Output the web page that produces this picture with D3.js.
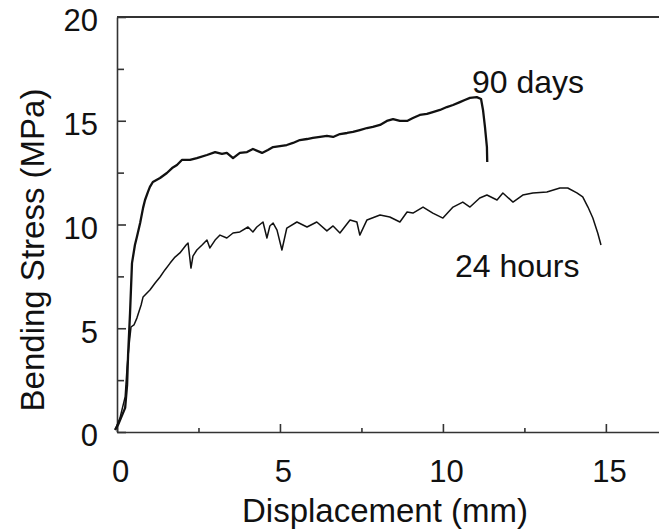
<!DOCTYPE html>
<html>
<head>
<meta charset="utf-8">
<script src="https://cdn.jsdelivr.net/npm/d3@7"></script>
<style>
  html, body { margin: 0; padding: 0; background: #fff; }
  text { font-family: "Liberation Sans", Arial, sans-serif; fill: #111; }
</style>
</head>
<body>
<div id="d3Container"></div>
<script>
// 90 days curve (displacement mm, stress MPa)
const disp90 = [-0.06,0.03,0.12,0.25,0.31,0.34,0.40,0.46,0.55,0.61,
  0.71,0.80,0.86,0.95,1.01,1.10,1.32,1.53,1.69,1.84,
  1.99,2.24,2.45,2.76,3.01,3.22,3.37,3.56,3.77,3.99,
  4.17,4.45,4.63,4.79,5.00,5.21,5.40,5.61,5.83,6.01,
  6.23,6.44,6.63,6.84,7.06,7.24,7.45,7.67,7.85,8.07,
  8.28,8.47,8.68,8.90,9.08,9.29,9.51,9.69,9.91,10.12,
  10.31,10.52,10.67,10.83,11.04,11.17,11.23,11.29,11.35,11.36];
const stress90 = [0.10,0.34,0.67,1.16,2.27,3.71,5.73,8.14,9.01,9.40,
  10.07,10.80,11.18,11.57,11.81,12.05,12.24,12.48,12.72,12.87,
  13.11,13.11,13.20,13.35,13.49,13.40,13.45,13.20,13.45,13.49,
  13.64,13.45,13.59,13.73,13.78,13.83,13.93,14.07,14.12,14.17,
  14.22,14.27,14.22,14.36,14.41,14.46,14.55,14.65,14.70,14.80,
  14.99,15.08,14.99,14.99,15.13,15.28,15.33,15.42,15.52,15.66,
  15.76,15.90,16.00,16.10,16.14,16.05,15.52,14.70,13.73,13.01];

// 24 hours curve
const disp24 = [-0.06,0.09,0.25,0.31,0.37,0.43,0.52,0.61,0.74,0.80,
  1.01,1.17,1.32,1.47,1.63,1.78,1.93,2.12,2.18,2.27,
  2.33,2.45,2.61,2.76,2.85,3.01,3.16,3.37,3.56,3.77,
  4.02,4.17,4.29,4.48,4.60,4.69,4.79,4.91,5.06,5.21,
  5.52,5.83,6.13,6.44,6.63,6.84,7.15,7.36,7.45,7.67,
  8.07,8.37,8.68,8.90,9.08,9.39,9.69,10.00,10.31,10.61,
  10.83,11.13,11.35,11.66,11.84,12.15,12.45,12.76,13.19,13.59,
  13.83,14.11,14.29,14.45,14.60,14.75,14.85];
const stress24 = [0.10,0.67,1.69,3.13,4.19,5.06,5.16,5.49,6.12,6.51,
  6.84,7.18,7.47,7.81,8.14,8.43,8.63,9.01,9.11,7.90,
  8.48,8.77,9.01,9.25,8.87,9.25,9.49,9.35,9.59,9.64,
  9.88,9.64,9.88,10.12,9.35,9.93,10.07,9.73,8.77,9.83,
  10.12,9.88,10.12,9.69,9.93,9.59,10.22,10.12,9.49,10.22,
  10.46,10.36,10.12,10.60,10.55,10.84,10.55,10.31,10.84,11.08,
  10.84,11.28,11.42,11.18,11.52,11.08,11.42,11.52,11.57,11.76,
  11.76,11.52,11.33,10.84,10.31,9.59,9.01];

const xTicks = [0, 5, 10, 15];
const xMinor = [2.5, 7.5, 12.5];
const yTicks = [0, 5, 10, 15, 20];
const yMinor = [2.5, 7.5, 12.5, 17.5];

const seriesNames = ['90 days', '24 hours'];
const labelX = [10.89, 10.37];
const labelY = [16.34, 7.47];

const w = 659;
const h = 531;
const svg = d3.select('#d3Container').append('svg')
  .attr('width', w)
  .attr('height', h);

const xScale = d3.scaleLinear().domain([0, 16.63]).range([117, 659]);
const yScale = d3.scaleLinear().domain([0, 20]).range([432, 17]);

const axisColor = '#333';

// minor ticks
const yMinorAxis = d3.axisLeft(yScale).tickValues(yMinor).tickFormat('').tickSizeInner(-7).tickSizeOuter(0);
const gyMin = svg.append('g').attr('transform', `translate(${xScale(0)},0)`).call(yMinorAxis);
gyMin.select('.domain').remove();

const xMinorAxis = d3.axisBottom(xScale).tickValues(xMinor).tickFormat('').tickSizeInner(-4).tickSizeOuter(0);
const gxMin = svg.append('g').attr('transform', `translate(0,${yScale(0)})`).call(xMinorAxis);
gxMin.select('.domain').remove();

// major axes
const yAxis = d3.axisLeft(yScale).tickValues(yTicks).tickSizeInner(-9).tickSizeOuter(0).tickPadding(19);
const gy = svg.append('g').attr('transform', `translate(${xScale(0)},0)`).call(yAxis);
gy.selectAll('text').attr('dy', '0.45em').style('font-size', '31px');

const xAxis = d3.axisBottom(xScale).tickValues(xTicks).tickSizeInner(-8).tickSizeOuter(0).tickPadding(28);
const gx = svg.append('g').attr('transform', `translate(0,${yScale(0)})`).call(xAxis);
gx.selectAll('text').attr('dx', 3).style('font-size', '31px');

svg.selectAll('.domain, .tick line').attr('stroke', axisColor).attr('stroke-width', 1.6);
svg.selectAll('.tick text').attr('fill', '#111').style('font-family', '"Liberation Sans", Arial, sans-serif');

// top border
svg.append('line')
  .attr('x1', xScale(0)).attr('x2', xScale.range()[1])
  .attr('y1', yScale(20)).attr('y2', yScale(20))
  .attr('stroke', axisColor).attr('stroke-width', 1.8);

// curves
const line = d3.line().x(d => xScale(d[0])).y(d => yScale(d[1]));
const pts90 = disp90.map((d, i) => [d, stress90[i]]);
const pts24 = disp24.map((d, i) => [d, stress24[i]]);

svg.append('path').datum(pts24)
  .attr('d', line).attr('fill', 'none')
  .attr('stroke', '#111').attr('stroke-width', 1.5).attr('stroke-linejoin', 'round');

svg.append('path').datum(pts90)
  .attr('d', line).attr('fill', 'none')
  .attr('stroke', '#111').attr('stroke-width', 2.3).attr('stroke-linejoin', 'round');

// curve labels
svg.selectAll('.lbl')
  .data(seriesNames)
  .enter()
  .append('text')
  .attr('class', 'lbl')
  .attr('x', (d, i) => xScale(labelX[i]))
  .attr('y', (d, i) => yScale(labelY[i]))
  .style('font-size', '32px')
  .text(d => d);

// axis titles
svg.append('text')
  .attr('x', 385).attr('y', 522)
  .attr('text-anchor', 'middle')
  .style('font-size', '33px')
  .text('Displacement (mm)');

svg.append('text')
  .attr('transform', 'translate(44,250) rotate(-90)')
  .attr('text-anchor', 'middle')
  .style('font-size', '33px')
  .text('Bending Stress (MPa)');
</script>
</body>
</html>
